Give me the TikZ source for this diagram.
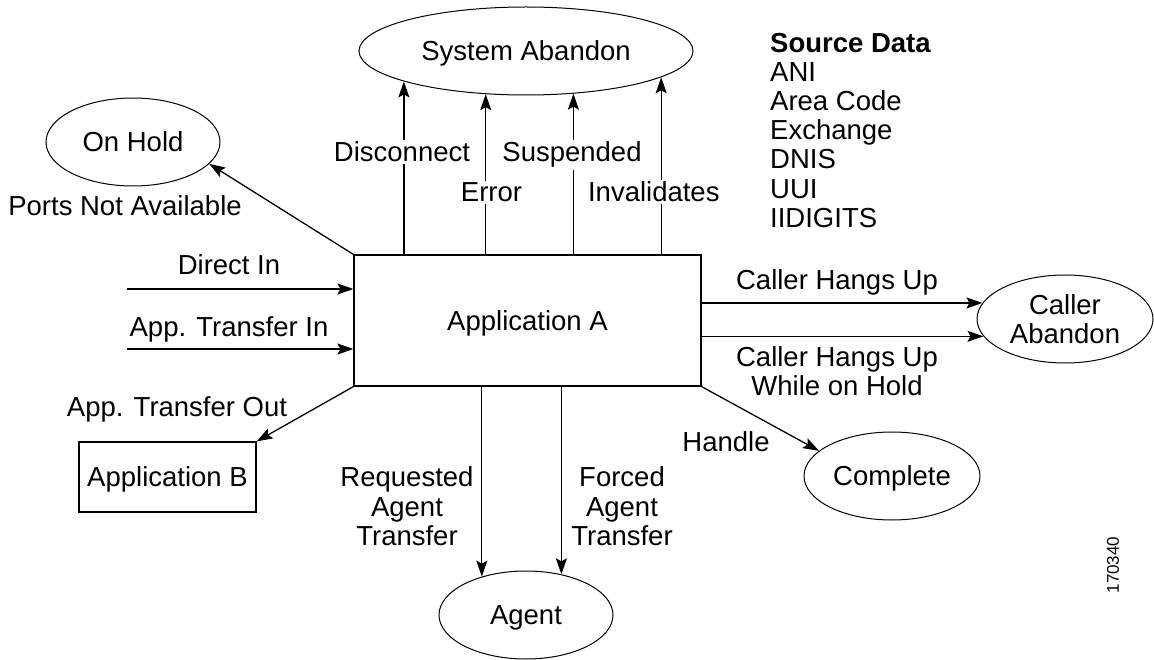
\documentclass[tikz,border=0pt]{standalone}
\usepackage{fontspec}
\setmainfont{Liberation Sans}
\usetikzlibrary{shapes.geometric,arrows.meta}
\begin{document}
\begin{tikzpicture}[x=1pt,y=-1pt,
  every node/.style={font=\fontsize{27.5}{29.2}\selectfont, text=black},
  ell/.style={draw, ellipse, inner sep=0pt, line width=1pt},
  onel/.style={text height=19.7pt, text depth=0pt},
  box/.style={draw, rectangle, inner sep=0pt, line width=1.2pt, text height=19.7pt, text depth=0pt},
  arr/.style={line width=1.3pt, -{Stealth[length=16pt,width=11pt,inset=3pt]}},
  lbl/.style={anchor=base, inner sep=0pt},
  wlbl/.style={anchor=base, fill=white, inner sep=2pt},
  mlbl/.style={anchor=north, align=center, inner sep=0pt},
]
\useasboundingbox (0,0) rectangle (1154,660);

% nodes
\node[box, minimum width=347pt, minimum height=131pt] (appA) at (527.5,320.5) {Application A};
\node[box, minimum width=177pt, minimum height=70pt] (appB) at (167.5,477) {Application B};
\node[ell, onel, minimum width=334pt, minimum height=88pt] (sys) at (526,51) {System Abandon};
\node[ell, onel, minimum width=174pt, minimum height=88pt] (hold) at (133,142) {On Hold};
\node[ell, onel, minimum width=174pt, minimum height=88pt] (agent) at (526,615) {Agent};
\node[ell, minimum width=176pt, minimum height=88pt, align=center] (cab) at (1065,319) {Caller\\Abandon};
\node[ell, onel, minimum width=176pt, minimum height=88pt] (comp) at (892,476) {Complete};

% connectors
\draw[arr] (appA.north -| sys.-166.85) -- (sys.-166.85);
\draw[arr] (appA.north -| sys.-133.13) -- (sys.-133.13);
\draw[arr] (appA.north -| sys.-42.6) -- (sys.-42.6);
\draw[arr] (appA.north -| sys.-11.77) -- (sys.-11.77);
\draw[arr] (appA.north west) -- (hold.-16.6);
\coordinate (din) at (127,289);
\coordinate (atin) at (127,349);
\draw[arr] (din) -- (appA.west |- din);
\draw[arr] (atin) -- (appA.west |- atin);
\draw[arr] (appA.south west) -- (appB.north east);
\draw[arr] (appA.south -| agent.139.2) -- (agent.139.2);
\draw[arr] (appA.south -| agent.49) -- (agent.49);
\draw[arr] (appA.east |- cab.169.7) -- (cab.169.7);
\draw[arr] (appA.east |- cab.-168.96) -- (cab.-168.96);
\draw[arr] (appA.south east) -- (comp.161.3);

% labels
\node[wlbl] (lDisc) at (402,162) {Disconnect};
\node[wlbl] (lSusp) at (572,162) {Suspended};
\node[wlbl] (lErr) at (491.5,202) {Error};
\node[wlbl] (lInv) at (653.8,202) {Invalidates};
\node[lbl] (lPorts) at (125,216) {Ports Not Available};
\node[lbl] (lDin) at (229,275) {Direct In};
\node[lbl] (lAtin) at (229,337) {App. Transfer In};
\node[lbl] (lAtout) at (177,416) {App. Transfer Out};
\node[mlbl] (lReq) at (407,466.7) {Requested\\Agent\\Transfer};
\node[mlbl] (lForced) at (622,466.7) {Forced\\Agent\\Transfer};
\node[lbl] (lHang) at (837,290) {Caller Hangs Up};
\node[mlbl] (lHangHold) at (837,346) {Caller Hangs Up\\While on Hold};
\node[lbl] (lHandle) at (726,451.7) {Handle};
\node[anchor=north west, align=left, inner sep=0pt] (src) at (770,32.7)
  {\textbf{Source Data}\\ANI\\Area Code\\Exchange\\DNIS\\UUI\\IIDIGITS};
\node[rotate=90, font=\fontsize{17}{17}\selectfont] (fig) at (1113,565) {170340};
\end{tikzpicture}
\end{document}
